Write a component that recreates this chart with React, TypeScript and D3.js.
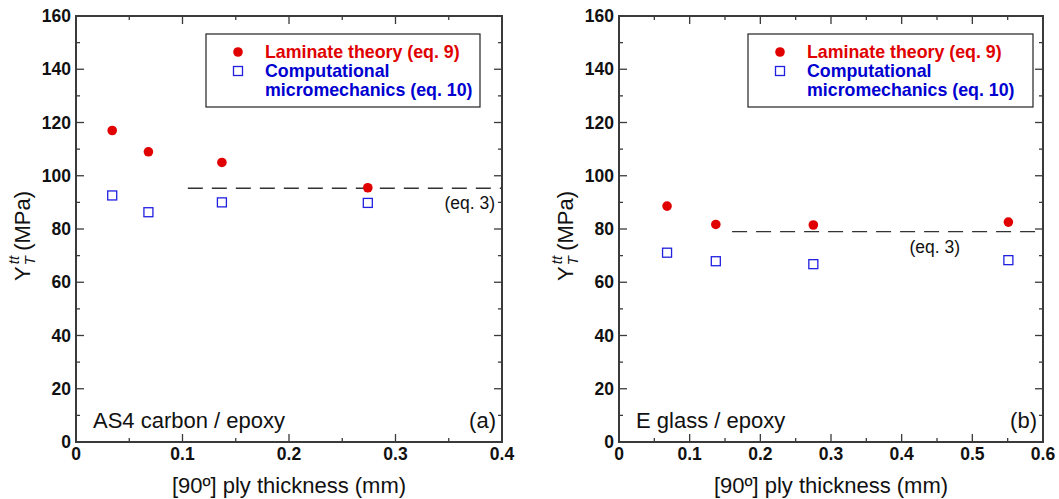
import React, { useEffect, useRef } from "react";
import * as d3 from "d3";

// AS4 carbon / epoxy
const carbonThickness = [0.034, 0.068, 0.137, 0.274];
const carbonLaminate = [117, 109, 105, 95.5];
const carbonMicro = [92.6, 86.3, 90, 89.8];
const carbonEq3 = { value: 95.3, from: 0.105 };
const carbonXTicks = [0, 0.1, 0.2, 0.3, 0.4];

// E glass / epoxy
const glassThickness = [0.068, 0.137, 0.275, 0.551];
const glassLaminate = [88.6, 81.7, 81.5, 82.6];
const glassMicro = [71.1, 67.9, 66.8, 68.3];
const glassEq3 = { value: 79, from: 0.16 };
const glassXTicks = [0, 0.1, 0.2, 0.3, 0.4, 0.5, 0.6];

const yTicks = [0, 20, 40, 60, 80, 100, 120, 140, 160];

const RED = "#e00000";
const BLUE = "#2020e0";
const AXIS = "#3a3a3a";
const FONT = "Arial, 'Liberation Sans', Helvetica, sans-serif";

function Panel(props) {
  const ref = useRef(null);

  useEffect(() => {
    const g = d3.select(ref.current);
    g.selectAll("*").remove();

    const { left, right, xMax, xTicks, xs, lam, micro, eq3 } = props;
    const top = 16;
    const bottom = 442;

    const x = d3.scaleLinear().domain([0, xMax]).range([left, right]);
    const y = d3.scaleLinear().domain([0, 160]).range([bottom, top]);

    const xMinor = d3.range(0, xMax + 1e-9, 0.05);
    const yMinor = d3.range(0, 161, 10);

    // ticks, all four sides, inward
    const tick = g.append("g").attr("stroke", AXIS).attr("stroke-width", 1.3);
    xMinor.forEach((v, i) => {
      const len = i % 2 === 0 ? 8 : 4;
      tick.append("line").attr("x1", x(v)).attr("x2", x(v)).attr("y1", bottom).attr("y2", bottom - len);
      tick.append("line").attr("x1", x(v)).attr("x2", x(v)).attr("y1", top).attr("y2", top + len);
    });
    yMinor.forEach((v, i) => {
      const len = i % 2 === 0 ? 8 : 4;
      tick.append("line").attr("y1", y(v)).attr("y2", y(v)).attr("x1", left).attr("x2", left + len);
      tick.append("line").attr("y1", y(v)).attr("y2", y(v)).attr("x1", right).attr("x2", right - len);
    });

    // frame
    g.append("rect")
      .attr("x", left)
      .attr("y", top)
      .attr("width", right - left)
      .attr("height", bottom - top)
      .attr("fill", "none")
      .attr("stroke", AXIS)
      .attr("stroke-width", 2);

    // tick labels
    g.selectAll(".yl")
      .data(yTicks)
      .enter()
      .append("text")
      .attr("x", left - 5)
      .attr("y", (d) => y(d) + 6)
      .attr("text-anchor", "end")
      .attr("font-family", FONT)
      .attr("font-weight", "bold")
      .attr("font-size", 17.5)
      .attr("fill", "#111")
      .text((d) => d);

    g.selectAll(".xl")
      .data(xTicks)
      .enter()
      .append("text")
      .attr("x", (d) => x(d))
      .attr("y", 460)
      .attr("text-anchor", "middle")
      .attr("font-family", FONT)
      .attr("font-weight", "bold")
      .attr("font-size", 17.5)
      .attr("fill", "#111")
      .text((d) => d3.format("")(d));

    // eq. 3 dashed line
    g.append("line")
      .attr("x1", x(eq3.from))
      .attr("x2", right)
      .attr("y1", y(eq3.value))
      .attr("y2", y(eq3.value))
      .attr("stroke", "#333")
      .attr("stroke-width", 1.3)
      .attr("stroke-dasharray", "15,9");

    g.append("text")
      .attr("x", props.eqX)
      .attr("y", props.eqY)
      .attr("text-anchor", "end")
      .attr("font-family", FONT)
      .attr("font-size", 17.5)
      .attr("fill", "#111")
      .text("(eq. 3)");

    // points
    g.selectAll(".sq")
      .data(xs)
      .enter()
      .append("rect")
      .attr("x", (d) => x(d) - 4.5)
      .attr("y", (_, i) => y(micro[i]) - 4.5)
      .attr("width", 9)
      .attr("height", 9)
      .attr("fill", "white")
      .attr("stroke", BLUE)
      .attr("stroke-width", 1.3);

    g.selectAll(".ci")
      .data(xs)
      .enter()
      .append("circle")
      .attr("cx", (d) => x(d))
      .attr("cy", (_, i) => y(lam[i]))
      .attr("r", 4.8)
      .attr("fill", RED);

    // legend
    const lx = props.legendX;
    const lw = props.legendW;
    g.append("rect")
      .attr("x", lx)
      .attr("y", 34)
      .attr("width", lw)
      .attr("height", 73)
      .attr("fill", "white")
      .attr("stroke", "#222")
      .attr("stroke-width", 1.2);
    g.append("circle").attr("cx", lx + 32).attr("cy", 52).attr("r", 4.8).attr("fill", RED);
    g.append("rect")
      .attr("x", lx + 27.5)
      .attr("y", 66.5)
      .attr("width", 9)
      .attr("height", 9)
      .attr("fill", "white")
      .attr("stroke", BLUE)
      .attr("stroke-width", 1.3);
    const legText = [
      { t: "Laminate theory (eq. 9)", c: RED, yy: 58 },
      { t: "Computational", c: "#0000d0", yy: 77 },
      { t: "micromechanics (eq. 10)", c: "#0000d0", yy: 96 },
    ];
    legText.forEach((d) => {
      g.append("text")
        .attr("x", lx + 59)
        .attr("y", d.yy)
        .attr("font-family", FONT)
        .attr("font-weight", "bold")
        .attr("font-size", 17.8)
        .attr("fill", d.c)
        .text(d.t);
    });

    // material label and panel letter
    g.append("text")
      .attr("x", left + 17)
      .attr("y", 428)
      .attr("font-family", FONT)
      .attr("font-size", 22)
      .attr("fill", "#111")
      .text(props.material);
    g.append("text")
      .attr("x", right - 6)
      .attr("y", 428)
      .attr("text-anchor", "end")
      .attr("font-family", FONT)
      .attr("font-size", 22)
      .attr("fill", "#111")
      .text(props.letter);

    // x axis title
    g.append("text")
      .attr("x", (left + right) / 2)
      .attr("y", 493)
      .attr("text-anchor", "middle")
      .attr("font-family", FONT)
      .attr("font-size", 22)
      .attr("fill", "#111")
      .text("[90º] ply thickness (mm)");

    // y axis title
    const yt = g
      .append("text")
      .attr("transform", `translate(${left - 46},231) rotate(-90)`)
      .attr("font-family", FONT)
      .attr("font-size", 22)
      .attr("fill", "#111")
      .attr("x", -50);
    yt.append("tspan").text("Y");
    yt.append("tspan").attr("font-size", 15).attr("font-style", "italic").attr("dy", 5).attr("dx", 1).text("T");
    yt.append("tspan").attr("font-size", 15).attr("font-style", "italic").attr("dy", -16).attr("dx", -8).text("tt");
    yt.append("tspan").attr("dy", 11).attr("dx", 5).text("(MPa)");
  }, [props]);

  return <g ref={ref} />;
}

export default function App() {
  return (
    <svg
      width={1059}
      height={499}
      style={{ position: "absolute", left: 0, top: 0, background: "white" }}
    >
      <Panel
        left={76}
        right={502}
        xMax={0.4}
        xTicks={carbonXTicks}
        xs={carbonThickness}
        lam={carbonLaminate}
        micro={carbonMicro}
        eq3={carbonEq3}
        eqX={495}
        eqY={209}
        legendX={206}
        legendW={274}
        material="AS4 carbon / epoxy"
        letter="(a)"
      />
      <Panel
        left={619}
        right={1043}
        xMax={0.6}
        xTicks={glassXTicks}
        xs={glassThickness}
        lam={glassLaminate}
        micro={glassMicro}
        eq3={glassEq3}
        eqX={960}
        eqY={253}
        legendX={748}
        legendW={285}
        material="E glass / epoxy"
        letter="(b)"
      />
    </svg>
  );
}
